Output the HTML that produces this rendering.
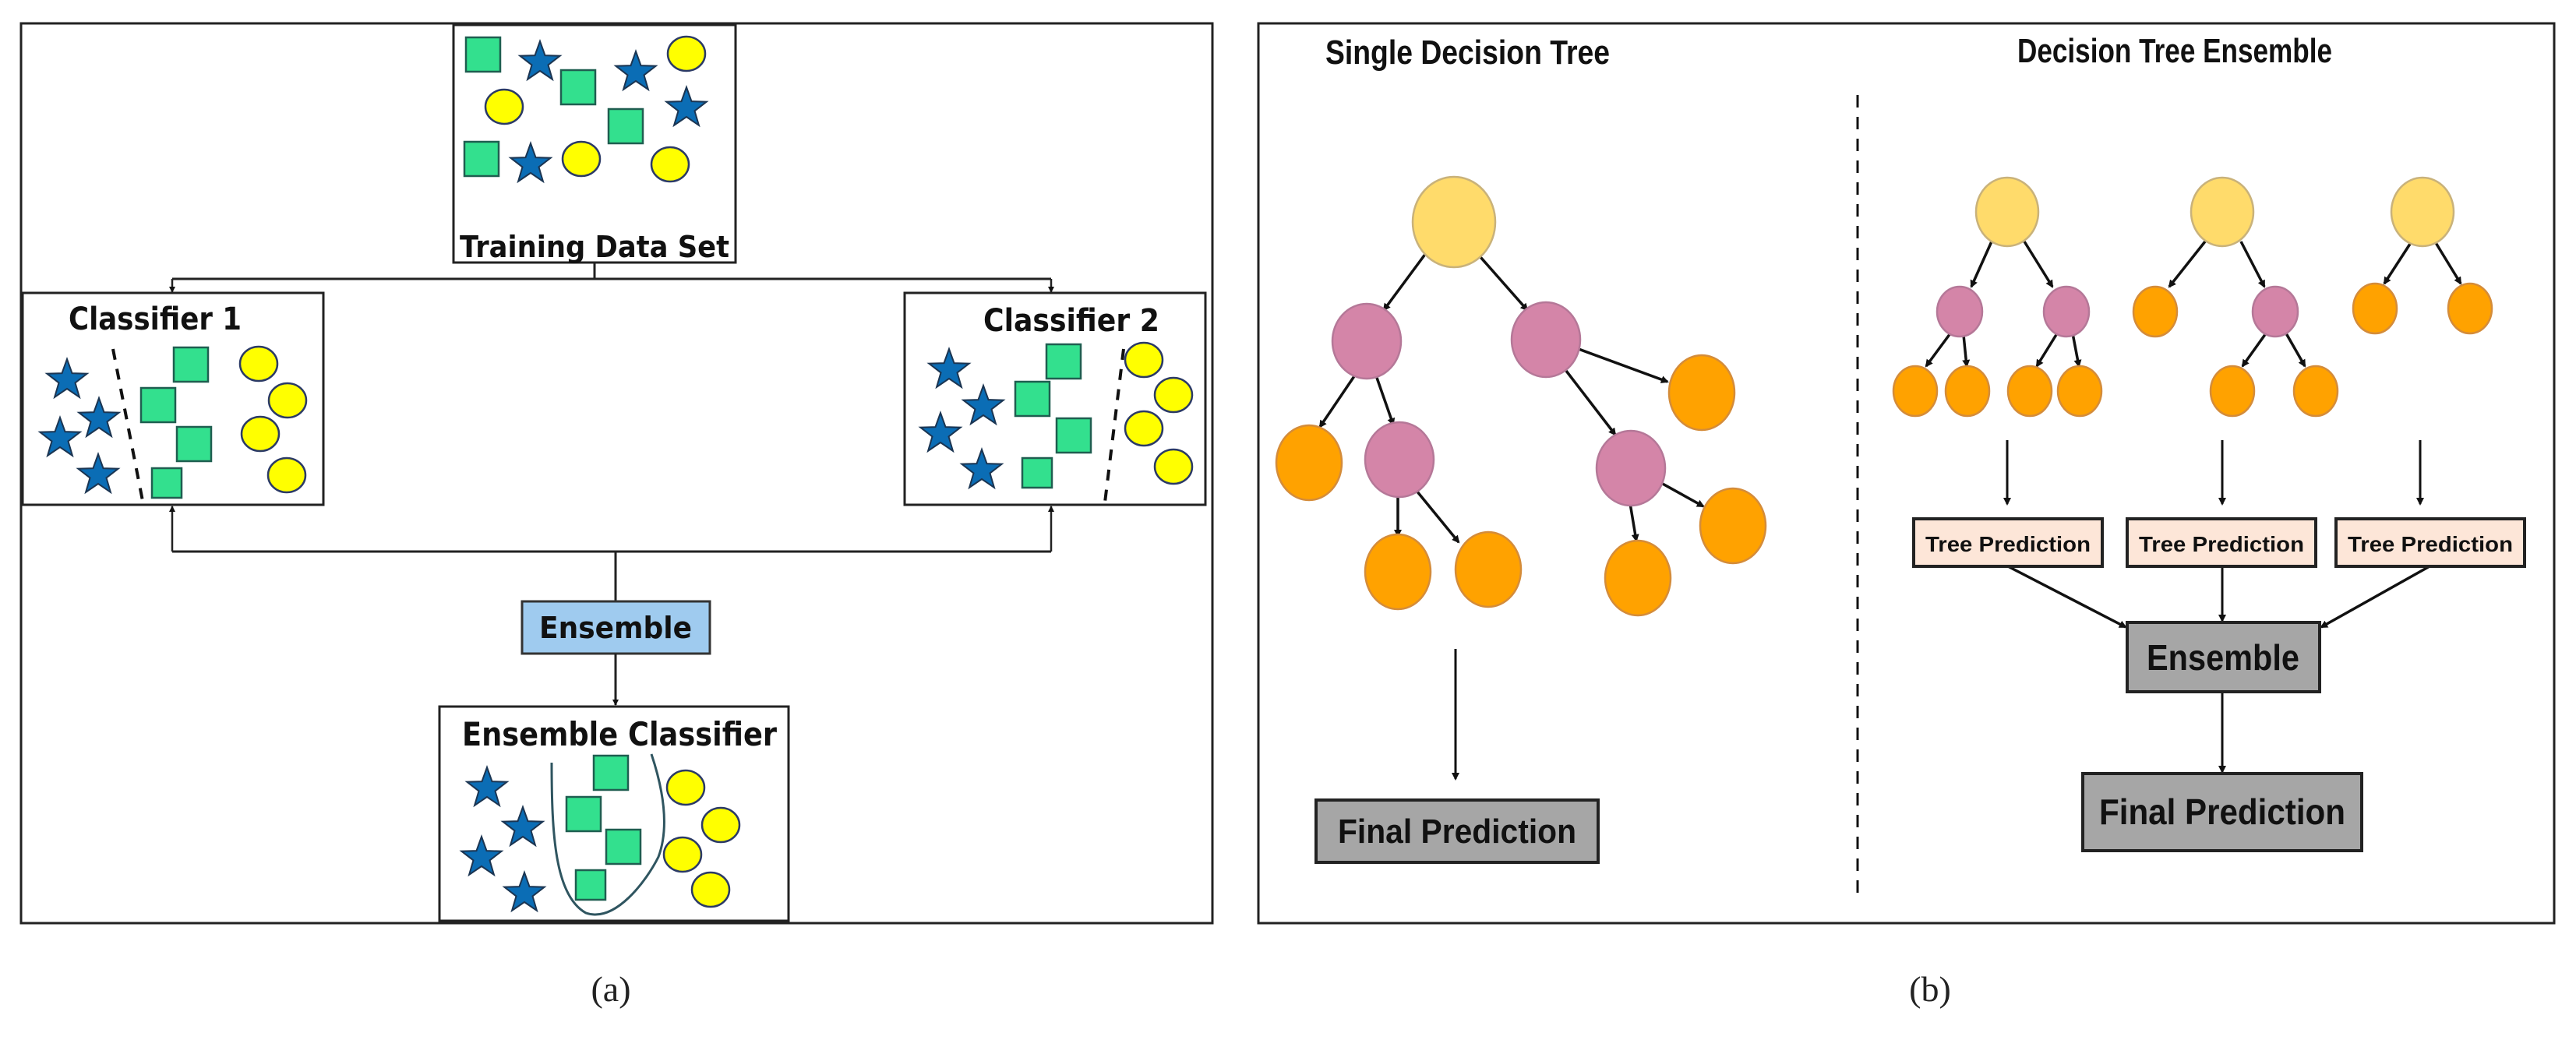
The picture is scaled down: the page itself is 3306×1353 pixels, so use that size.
<!DOCTYPE html>
<html><head><meta charset="utf-8"><style>
html,body{margin:0;padding:0;background:#fff;}
svg{display:block;}
.a{font-family:"DejaVu Sans","Liberation Sans",sans-serif;font-weight:bold;fill:#111;}
.b{font-family:"Liberation Sans",sans-serif;font-weight:bold;fill:#111;}
</style></head><body>
<svg width="3306" height="1353" viewBox="0 0 3306 1353" xmlns="http://www.w3.org/2000/svg">
<defs>
<polygon id="st" points="0,-27 6.5,-8.9 25.7,-8.3 10.5,3.4 15.9,21.8 0,11 -15.9,21.8 -10.5,3.4 -25.7,-8.3 -6.5,-8.9" fill="#0b6db5" stroke="#1b3552" stroke-width="2"/>
<rect id="sq" x="-22" y="-22" width="44" height="44" fill="#33e08e" stroke="#1f5e50" stroke-width="2.5"/>
<rect id="sqs" x="-19" y="-19" width="38" height="38" fill="#33e08e" stroke="#1f5e50" stroke-width="2.5"/>
<ellipse id="ci" rx="24" ry="22" fill="#ffff00" stroke="#2b3a66" stroke-width="2.5"/>
<marker id="ar" markerWidth="10" markerHeight="10" refX="8" refY="5" orient="auto" markerUnits="userSpaceOnUse"><path d="M0,0 L10,5 L0,10 z" fill="#111"/></marker>
<marker id="as" markerWidth="8" markerHeight="8" refX="7" refY="4" orient="auto" markerUnits="userSpaceOnUse"><path d="M0,0 L8,4 L0,8 z" fill="#111"/></marker>
</defs>

<!-- Panel A -->
<rect x="27" y="30" width="1529" height="1155" fill="none" stroke="#222" stroke-width="3"/>
<!-- training -->
<rect x="582" y="32" width="362" height="305" fill="#fff" stroke="#222" stroke-width="3"/>
<use href="#sq" x="620" y="70"/><use href="#sq" x="742" y="112"/><use href="#sq" x="803" y="162"/><use href="#sq" x="618" y="204"/>
<use href="#st" x="693" y="80"/><use href="#st" x="816" y="93"/><use href="#st" x="881" y="139"/><use href="#st" x="681" y="211"/>
<use href="#ci" x="881" y="69"/><use href="#ci" x="647" y="137"/><use href="#ci" x="746" y="204"/><use href="#ci" x="860" y="211"/>
<text class="a" x="763" y="330" font-size="38" text-anchor="middle" textLength="346" lengthAdjust="spacingAndGlyphs">Training Data Set</text>
<!-- connectors top -->
<polyline points="763,337 763,358" fill="none" stroke="#222" stroke-width="3"/>
<line x1="221" y1="358" x2="1349" y2="358" stroke="#222" stroke-width="3"/>
<line x1="221" y1="358" x2="221" y2="375" stroke="#222" stroke-width="2.5" marker-end="url(#as)"/>
<line x1="1349" y1="358" x2="1349" y2="375" stroke="#222" stroke-width="2.5" marker-end="url(#as)"/>
<!-- classifier 1 -->
<rect x="29" y="376" width="386" height="272" fill="#fff" stroke="#222" stroke-width="3"/>
<text class="a" x="88" y="423" font-size="40" textLength="222" lengthAdjust="spacingAndGlyphs">Classifier 1</text>
<line x1="145" y1="448" x2="184" y2="648" stroke="#111" stroke-width="4" stroke-dasharray="14,12"/>
<use href="#st" x="86" y="488"/><use href="#st" x="127" y="538"/><use href="#st" x="77" y="563"/><use href="#st" x="126" y="610"/>
<use href="#sq" x="245" y="468"/><use href="#sq" x="203" y="520"/><use href="#sq" x="249" y="570"/><use href="#sqs" x="214" y="620"/>
<use href="#ci" x="332" y="467"/><use href="#ci" x="369" y="514"/><use href="#ci" x="334" y="557"/><use href="#ci" x="368" y="610"/>
<!-- classifier 2 -->
<rect x="1161" y="376" width="386" height="272" fill="#fff" stroke="#222" stroke-width="3"/>
<text class="a" x="1262" y="425" font-size="40" textLength="226" lengthAdjust="spacingAndGlyphs">Classifier 2</text>
<line x1="1442" y1="448" x2="1418" y2="645" stroke="#111" stroke-width="4" stroke-dasharray="14,12"/>
<use href="#st" x="1218" y="475"/><use href="#st" x="1262" y="522"/><use href="#st" x="1207" y="557"/><use href="#st" x="1260" y="604"/>
<use href="#sq" x="1365" y="464"/><use href="#sq" x="1325" y="512"/><use href="#sq" x="1378" y="559"/><use href="#sqs" x="1331" y="607"/>
<use href="#ci" x="1468" y="462"/><use href="#ci" x="1506" y="507"/><use href="#ci" x="1468" y="550"/><use href="#ci" x="1506" y="599"/>
<!-- bottom connectors -->
<line x1="221" y1="708" x2="1349" y2="708" stroke="#222" stroke-width="3"/>
<line x1="221" y1="708" x2="221" y2="650" stroke="#222" stroke-width="2.5" marker-end="url(#as)"/>
<line x1="1349" y1="708" x2="1349" y2="650" stroke="#222" stroke-width="2.5" marker-end="url(#as)"/>
<line x1="790" y1="708" x2="790" y2="772" stroke="#222" stroke-width="3"/>
<rect x="670" y="772" width="241" height="67" fill="#9fcbef" stroke="#333" stroke-width="3"/>
<text class="a" x="790" y="819" font-size="38" text-anchor="middle" textLength="196" lengthAdjust="spacingAndGlyphs">Ensemble</text>
<line x1="790" y1="839" x2="790" y2="905" stroke="#222" stroke-width="3" marker-end="url(#as)"/>
<!-- ensemble classifier -->
<rect x="564" y="907" width="448" height="275" fill="#fff" stroke="#222" stroke-width="3"/>
<text class="a" x="593" y="957" font-size="42" textLength="404" lengthAdjust="spacingAndGlyphs">Ensemble Classifier</text>
<path d="M708,979 C708,1070 712,1150 752,1172 C790,1185 830,1130 845,1100 C860,1060 850,1010 836,968" fill="none" stroke="#2f5560" stroke-width="3"/>
<use href="#st" x="625" y="1012"/><use href="#st" x="671" y="1063"/><use href="#st" x="618" y="1101"/><use href="#st" x="673" y="1147"/>
<use href="#sq" x="784" y="992"/><use href="#sq" x="749" y="1045"/><use href="#sq" x="800" y="1087"/><use href="#sqs" x="758" y="1136"/>
<use href="#ci" x="880" y="1011"/><use href="#ci" x="925" y="1059"/><use href="#ci" x="876" y="1097"/><use href="#ci" x="912" y="1142"/>
<text x="784" y="1285" font-family="Liberation Serif,serif" font-size="46" text-anchor="middle" fill="#222">(a)</text>

<!-- Panel B -->
<rect x="1615" y="30" width="1663" height="1155" fill="none" stroke="#222" stroke-width="3"/>
<text class="b" x="1701" y="82" font-size="44" textLength="365" lengthAdjust="spacingAndGlyphs">Single Decision Tree</text>
<text class="b" x="2589" y="80" font-size="44" textLength="404" lengthAdjust="spacingAndGlyphs">Decision Tree Ensemble</text>
<line x1="2384" y1="122" x2="2384" y2="1155" stroke="#111" stroke-width="3" stroke-dasharray="16,12"/>

<g stroke="#111" stroke-width="3.5" fill="none">
<line x1="1830" y1="325" x2="1776" y2="398" marker-end="url(#ar)"/>
<line x1="1900" y1="330" x2="1960" y2="398" marker-end="url(#ar)"/>
<line x1="1740" y1="480" x2="1694" y2="548" marker-end="url(#ar)"/>
<line x1="1766" y1="482" x2="1788" y2="545" marker-end="url(#ar)"/>
<line x1="2026" y1="448" x2="2140" y2="490" marker-end="url(#ar)"/>
<line x1="2010" y1="476" x2="2073" y2="558" marker-end="url(#ar)"/>
<line x1="1794" y1="636" x2="1794" y2="688" marker-end="url(#ar)"/>
<line x1="1818" y1="630" x2="1872" y2="696" marker-end="url(#ar)"/>
<line x1="2092" y1="646" x2="2100" y2="694" marker-end="url(#ar)"/>
<line x1="2132" y1="620" x2="2186" y2="650" marker-end="url(#ar)"/>
<line x1="1868" y1="833" x2="1868" y2="1000" marker-end="url(#ar)" stroke-width="3"/>
</g>
<g stroke-width="2.5">
<ellipse cx="1866" cy="285" rx="53" ry="58" fill="#ffdb6b" stroke="#c9b27a"/>
<ellipse cx="1754" cy="438" rx="44" ry="48" fill="#d485a8" stroke="#b57898"/>
<ellipse cx="1984" cy="436" rx="44" ry="48" fill="#d485a8" stroke="#b57898"/>
<ellipse cx="1796" cy="590" rx="44" ry="48" fill="#d485a8" stroke="#b57898"/>
<ellipse cx="2093" cy="601" rx="44" ry="48" fill="#d485a8" stroke="#b57898"/>
<g fill="#ffa200" stroke="#d48c3a">
<ellipse cx="1680" cy="594" rx="42" ry="48"/>
<ellipse cx="2184" cy="504" rx="42" ry="48"/>
<ellipse cx="1794" cy="734" rx="42" ry="48"/>
<ellipse cx="1910" cy="731" rx="42" ry="48"/>
<ellipse cx="2102" cy="742" rx="42" ry="48"/>
<ellipse cx="2224" cy="675" rx="42" ry="48"/>
</g></g>
<rect x="1689" y="1027" width="362" height="80" fill="#a6a6a6" stroke="#222" stroke-width="4"/>
<text class="b" x="1870" y="1082" font-size="44" text-anchor="middle" textLength="306" lengthAdjust="spacingAndGlyphs">Final Prediction</text>

<!-- ensemble trees -->
<g stroke="#111" stroke-width="3.5" fill="none">
<line x1="2556" y1="310" x2="2530" y2="368" marker-end="url(#ar)"/>
<line x1="2598" y1="310" x2="2634" y2="368" marker-end="url(#ar)"/>
<line x1="2503" y1="428" x2="2472" y2="470" marker-end="url(#ar)"/>
<line x1="2520" y1="430" x2="2524" y2="470" marker-end="url(#ar)"/>
<line x1="2640" y1="428" x2="2614" y2="470" marker-end="url(#ar)"/>
<line x1="2660" y1="428" x2="2668" y2="470" marker-end="url(#ar)"/>
<line x1="2830" y1="310" x2="2784" y2="368" marker-end="url(#ar)"/>
<line x1="2876" y1="310" x2="2906" y2="368" marker-end="url(#ar)"/>
<line x1="2908" y1="428" x2="2878" y2="470" marker-end="url(#ar)"/>
<line x1="2934" y1="428" x2="2958" y2="470" marker-end="url(#ar)"/>
<line x1="3095" y1="310" x2="3060" y2="364" marker-end="url(#ar)"/>
<line x1="3125" y1="310" x2="3158" y2="364" marker-end="url(#ar)"/>
<line x1="2576" y1="565" x2="2576" y2="647" marker-end="url(#ar)" stroke-width="3"/>
<line x1="2852" y1="565" x2="2852" y2="647" marker-end="url(#ar)" stroke-width="3"/>
<line x1="3106" y1="565" x2="3106" y2="647" marker-end="url(#ar)" stroke-width="3"/>
<line x1="2577" y1="727" x2="2728" y2="805" marker-end="url(#ar)"/>
<line x1="2852" y1="727" x2="2852" y2="797" marker-end="url(#ar)" stroke-width="3"/>
<line x1="3118" y1="727" x2="2979" y2="805" marker-end="url(#ar)"/>
<line x1="2852" y1="888" x2="2852" y2="991" marker-end="url(#ar)" stroke-width="3"/>
</g>
<g stroke-width="2.5">
<g fill="#ffdb6b" stroke="#c9b27a">
<ellipse cx="2576" cy="272" rx="40" ry="44"/><ellipse cx="2852" cy="272" rx="40" ry="44"/><ellipse cx="3109" cy="272" rx="40" ry="44"/>
</g>
<g fill="#d485a8" stroke="#b57898">
<ellipse cx="2515" cy="400" rx="29" ry="32"/><ellipse cx="2652" cy="400" rx="29" ry="32"/><ellipse cx="2920" cy="400" rx="29" ry="32"/>
</g>
<g fill="#ffa200" stroke="#d48c3a">
<ellipse cx="2766" cy="400" rx="28" ry="32"/><ellipse cx="3048" cy="396" rx="28" ry="32"/><ellipse cx="3170" cy="396" rx="28" ry="32"/>
<ellipse cx="2458" cy="502" rx="28" ry="32"/><ellipse cx="2525" cy="502" rx="28" ry="32"/><ellipse cx="2605" cy="502" rx="28" ry="32"/><ellipse cx="2669" cy="502" rx="28" ry="32"/>
<ellipse cx="2865" cy="502" rx="28" ry="32"/><ellipse cx="2972" cy="502" rx="28" ry="32"/>
</g></g>
<g fill="#fde6d8" stroke="#222" stroke-width="4">
<rect x="2456" y="666" width="242" height="61"/><rect x="2730" y="666" width="242" height="61"/><rect x="2998" y="666" width="242" height="61"/>
</g>
<g class="b" font-size="28">
<text x="2577" y="708" text-anchor="middle" textLength="212" lengthAdjust="spacingAndGlyphs">Tree Prediction</text>
<text x="2851" y="708" text-anchor="middle" textLength="212" lengthAdjust="spacingAndGlyphs">Tree Prediction</text>
<text x="3119" y="708" text-anchor="middle" textLength="212" lengthAdjust="spacingAndGlyphs">Tree Prediction</text>
</g>
<rect x="2730" y="799" width="247" height="89" fill="#a6a6a6" stroke="#222" stroke-width="4"/>
<text class="b" x="2853" y="860" font-size="46" text-anchor="middle" textLength="196" lengthAdjust="spacingAndGlyphs">Ensemble</text>
<rect x="2673" y="993" width="358" height="99" fill="#a6a6a6" stroke="#222" stroke-width="4"/>
<text class="b" x="2852" y="1058" font-size="46" text-anchor="middle" textLength="316" lengthAdjust="spacingAndGlyphs">Final Prediction</text>
<text x="2477" y="1285" font-family="Liberation Serif,serif" font-size="46" text-anchor="middle" fill="#222">(b)</text>
</svg>
</body></html>
